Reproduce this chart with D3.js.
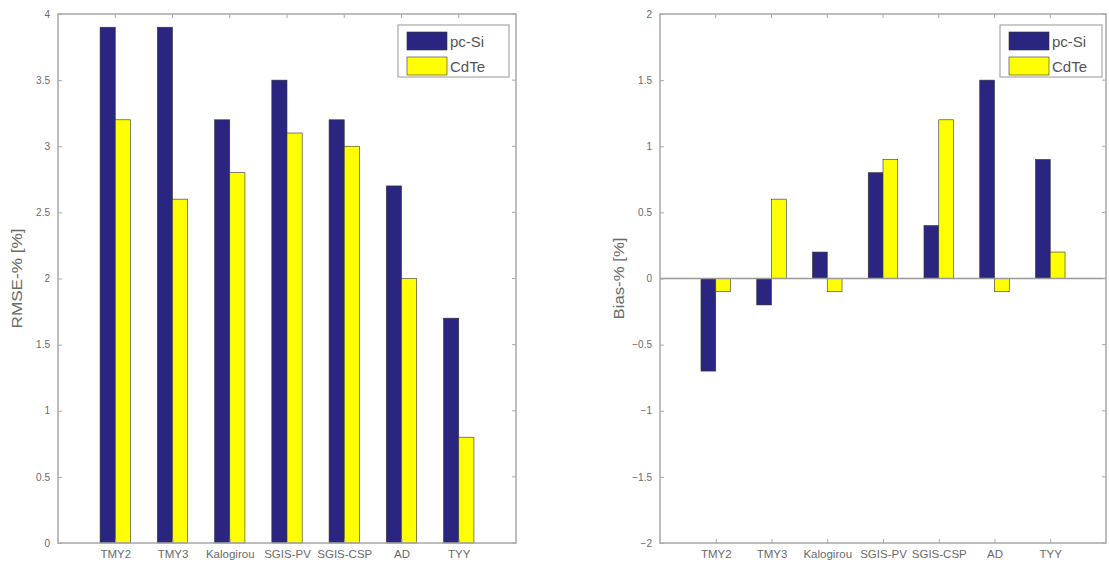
<!DOCTYPE html>
<html><head><meta charset="utf-8">
<script src="https://cdn.jsdelivr.net/npm/d3@7"></script>
<style>body{margin:0;background:#fff}svg{display:block}</style>
</head><body>
<svg id="c" width="1109" height="566"></svg>
<script>
const categories = ["TMY2","TMY3","Kalogirou","SGIS-PV","SGIS-CSP","AD","TYY"];
const seriesNames = ["pc-Si","CdTe"];
const rmsePcSi = [3.9,3.9,3.2,3.5,3.2,2.7,1.7];
const rmseCdTe = [3.2,2.6,2.8,3.1,3.0,2.0,0.8];
const biasPcSi = [-0.7,-0.2,0.2,0.8,0.4,1.5,0.9];
const biasCdTe = [-0.1,0.6,-0.1,0.9,1.2,-0.1,0.2];
const rmseTicks = [0,0.5,1,1.5,2,2.5,3,3.5,4];
const biasTicks = [-2,-1.5,-1,-0.5,0,0.5,1,1.5,2];
const colors = ["#2a2580","#ffff00"];

const svg = d3.select("#c");
const axisCol = "#a8a8a8", textCol = "#6a6a6a";
const ff = "Arial, Liberation Sans, sans-serif";

function panel(o){
  const g = svg.append("g");
  const x = d3.scaleLinear().domain([0,8]).range([o.x0,o.x1]);
  const y = d3.scaleLinear().domain(o.ydom).range([o.y1,o.y0]);
  const bw = 0.265;
  [o.s1,o.s2].forEach((vals,si)=>{
    g.selectAll(null).data(vals).enter().append("rect")
      .attr("x",(d,i)=>x(i+1+(si===0?-bw:0)))
      .attr("width",x(bw)-x(0))
      .attr("y",d=>y(Math.max(0,d)))
      .attr("height",d=>Math.abs(y(d)-y(0)))
      .attr("fill",colors[si]).attr("stroke","#333").attr("stroke-width",0.6);
  });
  if(o.zero){
    g.append("line").attr("x1",o.x0).attr("x2",o.x1).attr("y1",y(0)).attr("y2",y(0))
      .attr("stroke","#999").attr("stroke-width",1.6);
  }
  g.append("rect").attr("x",o.x0).attr("y",o.y0).attr("width",o.x1-o.x0).attr("height",o.y1-o.y0)
    .attr("fill","none").attr("stroke",axisCol).attr("stroke-width",1.5);
  const ya = d3.axisLeft(y).tickValues(o.yticks).tickSizeInner(-4).tickSizeOuter(0).tickPadding(8)
    .tickFormat(d=>d3.format("")(d));
  const yg = g.append("g").attr("transform",`translate(${o.x0},0)`).call(ya);
  yg.select(".domain").remove();
  yg.selectAll("line").attr("stroke",axisCol);
  yg.selectAll("text").attr("fill",textCol).attr("font-size","10px").attr("font-family",ff);
  g.selectAll(null).data(o.yticks).enter().append("line")
    .attr("x1",o.x1).attr("x2",o.x1-4).attr("y1",d=>y(d)).attr("y2",d=>y(d)).attr("stroke",axisCol);
  const xa = d3.axisBottom(x).tickValues(d3.range(1,8)).tickSizeInner(-4).tickSizeOuter(0).tickPadding(7)
    .tickFormat(d=>categories[d-1]);
  const xg = g.append("g").attr("transform",`translate(0,${o.y1})`).call(xa);
  xg.select(".domain").remove();
  xg.selectAll("line").attr("stroke",axisCol);
  xg.selectAll("text").attr("fill",textCol).attr("font-size","11.5px").attr("font-family",ff);
  g.selectAll(null).data(d3.range(1,8)).enter().append("line")
    .attr("x1",d=>x(d)).attr("x2",d=>x(d)).attr("y1",o.y0).attr("y2",o.y0+4).attr("stroke",axisCol);
  g.append("text").attr("transform",`translate(${o.lx},${(o.y0+o.y1)/2}) rotate(-90)`)
    .attr("text-anchor","middle").attr("fill",textCol).attr("font-size","14px")
    .attr("font-family",ff).attr("textLength",o.lw).attr("lengthAdjust","spacingAndGlyphs").text(o.label);
  const lg = g.append("g").attr("transform",`translate(${o.legx},25)`);
  lg.append("rect").attr("width",o.legw).attr("height",52).attr("fill","#fff").attr("stroke",axisCol).attr("stroke-width",1.2);
  seriesNames.forEach((n,i)=>{
    lg.append("rect").attr("x",9).attr("y",7+i*25).attr("width",40).attr("height",18)
      .attr("fill",colors[i]).attr("stroke","#333").attr("stroke-width",0.6);
    lg.append("text").attr("x",52).attr("y",22+i*25).attr("fill","#555").attr("font-size","15px")
      .attr("font-family",ff).text(n);
  });
}

panel({x0:58,x1:516,y0:14,y1:543,ydom:[0,4],yticks:rmseTicks,s1:rmsePcSi,s2:rmseCdTe,
  label:"RMSE-% [%]",lx:22,lw:100,legx:398,legw:111,zero:false});
panel({x0:660,x1:1106,y0:14,y1:543,ydom:[-2,2],yticks:biasTicks,s1:biasPcSi,s2:biasCdTe,
  label:"Bias-% [%]",lx:624,lw:82,legx:1000,legw:102,zero:true});
</script>
</body></html>
